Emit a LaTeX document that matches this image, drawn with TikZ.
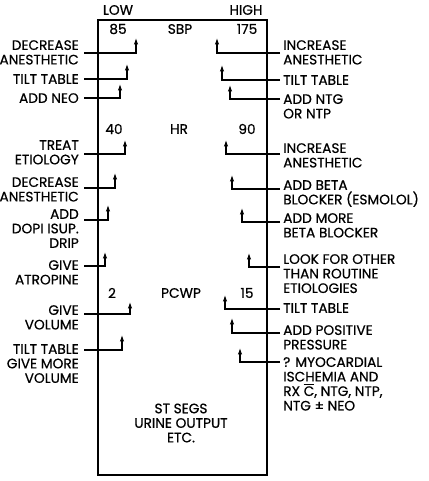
\documentclass[tikz,border=0pt]{standalone}
\usepackage{fontspec}
\setmainfont{Poppins}[FakeBold=0.6]
\usetikzlibrary{arrows.meta}

\tikzset{
  txt/.style={font=\fontsize{11.7}{12.4}\selectfont, inner sep=0pt},
  lft/.style={txt, align=right, anchor=north east},
  rgt/.style={txt, align=left, anchor=north west},
  act/.style={line width=0.9pt, -{Latex[length=5.5pt,width=3.8pt]}},
  box/.style={line width=1.1pt}
}

\begin{document}
\begin{tikzpicture}[x=0.03cm, y=-0.03cm]
            \useasboundingbox (0,0) rectangle (429,481);

            % Caja
            \draw[box] (98,20) rectangle (267,475);

            % Encabezados
            \node[txt] (low) at (118,10) {LOW};
            \node[txt] (high) at (246,10) {HIGH};
            \node[txt] (sbp85) at (118,29) {85};
            \node[txt] (sbp) at (180,29) {SBP};
            \node[txt] (sbp175) at (247,29) {175};
            \node[txt] (hr40) at (114,129) {40};
            \node[txt] (hr) at (179,129) {HR};
            \node[txt] (hr90) at (247,129) {90};
            \node[txt] (pc2) at (112,293) {2};
            \node[txt] (pc) at (181,293) {PCWP};
            \node[txt] (pc15) at (247,293) {15};
            \node[txt, align=center] (etc) at (181,423) {ST SEGS\\URINE OUTPUT\\ETC.};

            % Acciones (izquierda)
            \node[lft] (ldecA) at (79,40) {DECREASE\\ANESTHETIC};
            \coordinate (ldecA-t) at (136,38);
            \draw[act] ([shift={(5,13)}]ldecA.north east) -| (ldecA-t);

            \node[lft] (ltilt) at (79,74) {TILT TABLE};
            \coordinate (ltilt-t) at (127,64);
            \draw[act] ([shift={(5,5)}]ltilt.north east) -| (ltilt-t);

            \node[lft] (lneo) at (79,93) {ADD NEO};
            \coordinate (lneo-t) at (120,84);
            \draw[act] ([shift={(5,5)}]lneo.north east) -| (lneo-t);

            \node[lft] (ltreat) at (79,140) {TREAT\\ETIOLOGY};
            \coordinate (ltreat-t) at (125,140);
            \draw[act] ([shift={(5,14)}]ltreat.north east) -| (ltreat-t);

            \node[lft] (ldecB) at (79,177) {DECREASE\\ANESTHETIC};
            \coordinate (ldecB-t) at (115,173);
            \draw[act] ([shift={(5,11)}]ldecB.north east) -| (ldecB-t);

            \node[lft] (ldopi) at (79,209) {ADD\\DOPI ISUP.\\DRIP};
            \coordinate (ldopi-t) at (108,205);
            \draw[act] ([shift={(5,11)}]ldopi.north east) -| (ldopi-t);

            \node[lft] (latro) at (79,260) {GIVE\\ATROPINE};
            \coordinate (latro-t) at (105,252);
            \draw[act] ([shift={(5,6)}]latro.north east) -| (latro-t);

            \node[lft] (lvol) at (79,305) {GIVE\\VOLUME};
            \coordinate (lvol-t) at (130,302);
            \draw[act] ([shift={(5,9)}]lvol.north east) -| (lvol-t);

            \node[lft] (lmore) at (79,344) {TILT TABLE\\GIVE MORE\\VOLUME};
            \coordinate (lmore-t) at (122,335);
            \draw[act] ([shift={(5,6)}]lmore.north east) -| (lmore-t);

            % Acciones (derecha)
            \node[rgt] (rincA) at (283,40) {INCREASE\\ANESTHETIC};
            \coordinate (rincA-t) at (217,38);
            \draw[act] ([shift={(-3,13)}]rincA.north west) -| (rincA-t);

            \node[rgt] (rtilt) at (283,75) {TILT TABLE};
            \coordinate (rtilt-t) at (222,65);
            \draw[act] ([shift={(-3,5)}]rtilt.north west) -| (rtilt-t);

            \node[rgt] (rntg) at (283,94) {ADD NTG\\OR NTP};
            \coordinate (rntg-t) at (230,85);
            \draw[act] ([shift={(-3,5)}]rntg.north west) -| (rntg-t);

            \node[rgt] (rincB) at (283,143) {INCREASE\\ANESTHETIC};
            \coordinate (rincB-t) at (226,140);
            \draw[act] ([shift={(-3,11)}]rincB.north west) -| (rincB-t);

            \node[rgt] (rbeta) at (283,180) {ADD BETA\\BLOCKER (ESMOLOL)};
            \coordinate (rbeta-t) at (232,175);
            \draw[act] ([shift={(-3,9)}]rbeta.north west) -| (rbeta-t);

            \node[rgt] (rmore) at (283,213) {ADD MORE\\BETA BLOCKER};
            \coordinate (rmore-t) at (242,208);
            \draw[act] ([shift={(-3,9)}]rmore.north west) -| (rmore-t);

            \node[rgt] (rlook) at (283,254) {LOOK FOR OTHER\\THAN ROUTINE\\ETIOLOGIES};
            \coordinate (rlook-t) at (249,253);
            \draw[act] ([shift={(-3,13)}]rlook.north west) -| (rlook-t);

            \node[rgt] (rtiltB) at (283,303) {TILT TABLE};
            \coordinate (rtiltB-t) at (225,295);
            \draw[act] ([shift={(-3,6)}]rtiltB.north west) -| (rtiltB-t);

            \node[rgt] (rpos) at (283,325) {ADD POSITIVE\\PRESSURE};
            \coordinate (rpos-t) at (232,318);
            \draw[act] ([shift={(-3,8)}]rpos.north west) -| (rpos-t);

            \node[rgt] (rmyo) at (283,357) {? MYOCARDIAL\\ISCHEMIA AND\\RX $\overline{\hbox{C}}$, NTG, NTP,\\NTG ± NEO};
            \coordinate (rmyo-t) at (240,348);
            \draw[act] ([shift={(-3,5)}]rmyo.north west) -| (rmyo-t);
\end{tikzpicture}
\end{document}
